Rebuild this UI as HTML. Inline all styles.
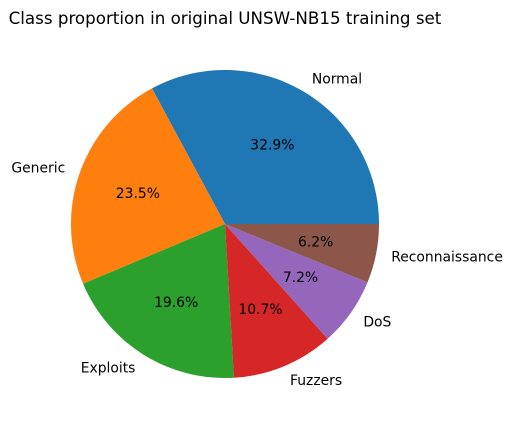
<!DOCTYPE html>
<html><head><meta charset="utf-8"><style>
body{margin:0;background:#fff;}
svg text{font-family:"DejaVu Sans","Liberation Sans",sans-serif;}
</style></head><body>
<svg id="chart" width="512" height="427" viewBox="0 0 512 427">
<rect width="512" height="427" fill="#fff"/>
<text x="225" y="24" text-anchor="middle" font-size="16.7" fill="#000">Class proportion in original UNSW-NB15 training set</text>
<g id="slices"></g>
</svg>
<script>
const categories = ["Normal","Generic","Exploits","Fuzzers","DoS","Reconnaissance"];
const values = [32.9,23.5,19.6,10.7,7.2,6.2];
const pctLabels = ["32.9%","23.5%","19.6%","10.7%","7.2%","6.2%"];
const colors = ["#1f77b4","#ff7f0e","#2ca02c","#d62728","#9467bd","#8c564b"];
const cx=225, cy=224, r=154;
const g=document.getElementById('slices');
const NS='http://www.w3.org/2000/svg';
const total=values.reduce((a,b)=>a+b,0);
function pt(a,rad){return [cx+rad*Math.cos(a), cy-rad*Math.sin(a)];}
let start=0;
values.forEach((v,i)=>{
  const sweep=v/total*2*Math.PI, end=start+sweep;
  const [x1,y1]=pt(start,r),[x2,y2]=pt(end,r);
  const p=document.createElementNS(NS,'path');
  p.setAttribute('d',`M${cx},${cy} L${x1},${y1} A${r},${r} 0 ${sweep>Math.PI?1:0} 0 ${x2},${y2} Z`);
  p.setAttribute('fill',colors[i]);
  
  
  g.appendChild(p);
  const mid=(start+end)/2;
  const [lx,ly]=pt(mid,r*1.1);
  const t=document.createElementNS(NS,'text');
  t.setAttribute('x',lx);t.setAttribute('y',ly+4.8);
  t.setAttribute('font-size','13.9');
  t.setAttribute('text-anchor',Math.cos(mid)>=0?'start':'end');
  t.textContent=categories[i];
  
  
  g.appendChild(t);
  const [px,py]=pt(mid,r*0.6);
  const u=document.createElementNS(NS,'text');
  u.setAttribute('x',px);u.setAttribute('y',py+4.8);
  u.setAttribute('font-size','13.9');
  u.setAttribute('text-anchor','middle');
  u.textContent=pctLabels[i];
  
  
  g.appendChild(u);
  start=end;
});
</script>
</body></html>
